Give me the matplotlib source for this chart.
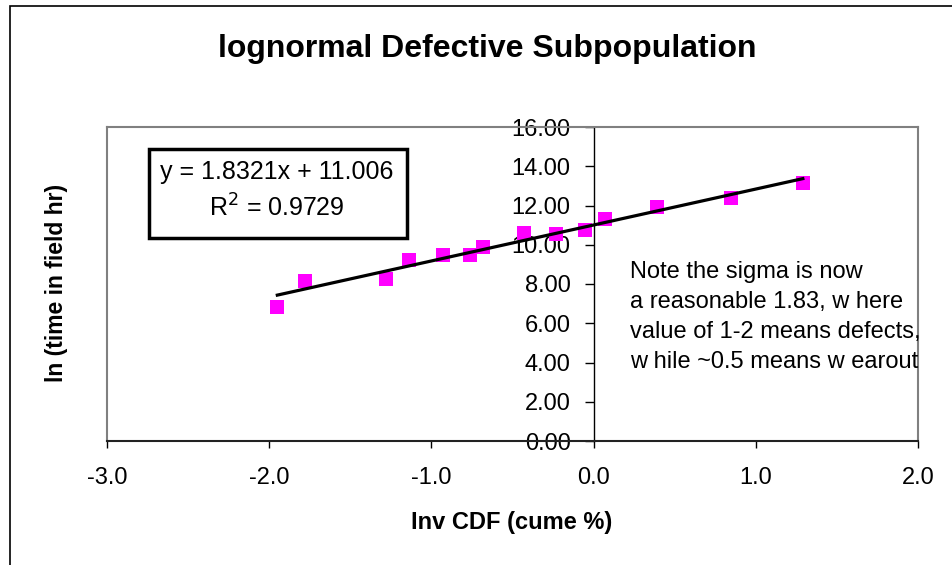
import matplotlib
matplotlib.use("Agg")
import matplotlib.pyplot as plt
from matplotlib.lines import Line2D
from matplotlib.patches import Rectangle
import numpy as np

plt.rcParams['font.family'] = ['Liberation Sans', 'DejaVu Sans']

# Data
inv_cdf = [-1.95, -1.78, -1.28, -1.14, -0.93, -0.76, -0.68, -0.43, -0.23, -0.05, 0.07, 0.39, 0.85, 1.29]
ln_time = [6.82, 8.14, 8.28, 9.21, 9.50, 9.50, 9.89, 10.60, 10.57, 10.74, 11.31, 11.93, 12.40, 13.15]
slope = 1.8321
intercept = 11.006
r_squared = 0.9729
x_ticks = [-3.0, -2.0, -1.0, 0.0, 1.0, 2.0]
y_ticks = [0, 2, 4, 6, 8, 10, 12, 14, 16]
title = "lognormal Defective Subpopulation"
x_label = "Inv CDF (cume %)"
y_label = "ln (time in field hr)"
note_lines = ["Note the sigma is now",
              "a reasonable 1.83, w here",
              "value of 1-2 means defects,",
              "w hile ~0.5 means w earout"]

W, H = 953, 565
fig = plt.figure(figsize=(W/100, H/100), dpi=100)
fig.patch.set_facecolor('white')

# outer chart border
fig.patches.append(Rectangle((10/W, -0.1), 1.2, 1 - 6/H + 0.1, transform=fig.transFigure,
                             fill=False, edgecolor='black', linewidth=1.2))

ax = fig.add_axes([107/W, 1 - 441/H, (918-107)/W, (441-127)/H])
ax.set_xlim(-3, 2)
ax.set_ylim(0, 16)

# spines
ax.spines['left'].set_position(('data', 0))
ax.spines['left'].set_color('black')
ax.spines['left'].set_linewidth(1.0)
ax.spines['bottom'].set_color('#222222')
ax.spines['bottom'].set_linewidth(1.5)
for s in ['top', 'right']:
    ax.spines[s].set_color('#808080')
    ax.spines[s].set_linewidth(1.5)
ax.add_line(Line2D([0, 0], [0, 1], transform=ax.transAxes, color='#808080', linewidth=1.5, clip_on=False))

ax.set_xticks(x_ticks)
ax.set_xticklabels([f"{v:.1f}" for v in x_ticks])
ax.set_yticks(y_ticks)
ax.set_yticklabels([f"{v:.2f}" for v in y_ticks])
ax.tick_params(axis='x', direction='out', length=5, width=1, pad=14, labelsize=17, colors='black')
ax.tick_params(axis='y', direction='out', length=6.5, width=1, pad=10, labelsize=17, colors='black')

# data points
ax.plot(inv_cdf, ln_time, linestyle='none', marker='s', markersize=10.5,
        color='#FF00FF', markeredgewidth=0, zorder=3)

# trendline
xs = np.array([min(inv_cdf), max(inv_cdf)])
ax.plot(xs, slope * xs + intercept, color='black', linewidth=2.3, zorder=4)

# equation box
fig.patches.append(Rectangle((149/W, 1 - 238/H), (407-149)/W, (238-149)/H,
                             transform=fig.transFigure, fill=True, facecolor='white',
                             edgecolor='black', linewidth=2.5, zorder=5))
fig.text(277/W, 1 - 172/H, f"y = {slope}x + {intercept}", ha='center', va='center',
         fontsize=18, zorder=6)
fig.text(277/W, 1 - 208/H, f"R$^2$ = {r_squared}", ha='center', va='center',
         fontsize=18, zorder=6)

# note
for i, line in enumerate(note_lines):
    fig.text(630/W, 1 - (272 + 30*i)/H, line, ha='left', va='center', fontsize=17)

# title and labels
fig.text(487/W, 1 - 49/H, title, ha='center', va='center', fontsize=23, fontweight='bold')
fig.text(512/W, 1 - 523/H, x_label, ha='center', va='center', fontsize=17, fontweight='bold')
fig.text(57/W, 1 - 283/H, y_label, ha='center', va='center', fontsize=16.5,
         fontweight='bold', rotation=90)

fig.savefig("out.png", dpi=100)
